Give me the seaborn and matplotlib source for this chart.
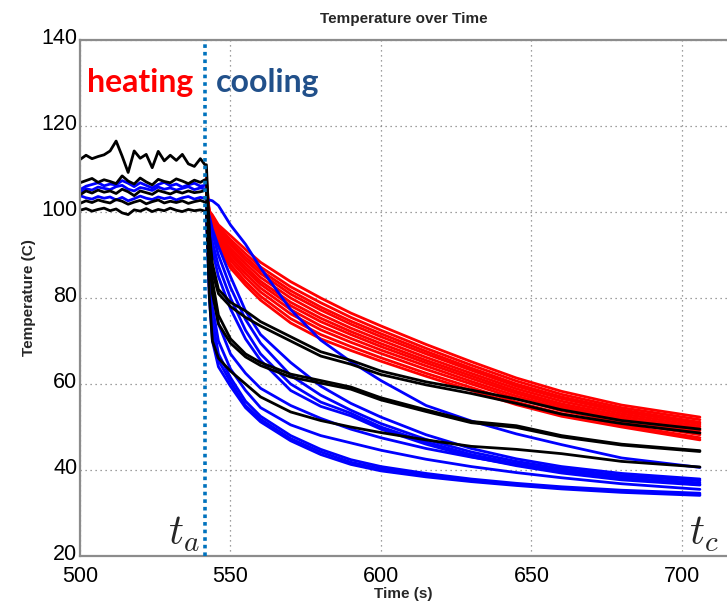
import numpy as np
import pandas as pd
import seaborn as sns
import matplotlib.pyplot as plt
import matplotlib.transforms as mtransforms

# time grids (s)
t_heat = [500, 502, 504, 506, 508, 510, 512, 514, 516, 518, 520,
          522, 524, 526, 528, 530, 532, 534, 536, 538, 540, 541.5]
t_cool = [542, 543, 544, 546, 550, 555, 560, 570, 580, 590, 600,
          615, 630, 645, 660, 680, 706]
t_switch = 541.5

# heating phase, black sensors
heat_black = [
    [112.2, 113.2, 112.4, 112.9, 113.3, 114.2, 116.5, 113.0, 109.2, 114.2, 112.5,
     113.4, 110.3, 114.1, 111.9, 113.2, 112.0, 113.4, 111.2, 110.6, 112.4, 111.0],
    [106.8, 107.3, 107.8, 106.9, 107.5, 107.1, 106.6, 108.4, 107.2, 106.5, 107.9,
     107.0, 106.3, 107.6, 107.1, 106.8, 107.7, 107.2, 106.6, 107.4, 106.9, 107.5],
    [104.0, 104.9, 104.4, 105.1, 104.6, 104.9, 104.3, 105.3, 104.7, 103.8, 104.9,
     104.5, 104.1, 105.0, 104.6, 104.2, 104.8, 104.4, 104.9, 104.5, 104.7, 105.0],
    [102.0, 102.6, 102.2, 102.8, 102.4, 102.1, 102.9, 102.5, 101.8, 102.3, 102.7,
     101.9, 102.4, 102.8, 102.1, 102.5, 102.2, 102.6, 102.0, 102.4, 102.7, 102.3],
    [100.4, 100.8, 100.2, 100.6, 100.9, 100.3, 100.7, 99.8, 99.4, 100.5, 100.2,
     100.8, 100.1, 100.6, 100.3, 100.9, 100.4, 100.1, 100.6, 100.3, 100.5, 100.2],
]

# heating phase, blue sensors
heat_blue = [
    [105.2, 106.0, 106.4, 106.8, 106.1, 106.5, 106.3, 107.3, 106.7, 105.9, 106.8,
     106.2, 105.6, 106.4, 106.9, 106.1, 106.5, 105.8, 106.3, 106.7, 106.0, 106.2],
    [104.6, 105.4, 105.1, 105.8, 105.5, 105.2, 105.9, 106.2, 105.3, 104.9, 105.7,
     105.4, 105.0, 105.8, 105.3, 105.6, 105.1, 105.5, 105.9, 105.2, 105.6, 105.4],
    [103.8, 103.3, 103.0, 103.6, 103.2, 103.5, 102.8, 103.4, 102.6, 103.1, 103.7,
     103.2, 102.9, 103.5, 103.1, 103.4, 102.8, 103.3, 103.6, 103.0, 103.4, 103.2],
]

# cooling phase
red_cool = [
    [104.0, 100.2, 99.3, 97.0, 94.5, 91.3, 88.3, 83.8, 80.0, 76.5, 73.5, 69.2, 65.2, 61.4, 58.3, 55.1, 52.3],
    [106.0, 100.0, 99.0, 96.4, 93.6, 90.3, 87.2, 82.6, 78.9, 75.5, 72.5, 68.3, 64.4, 60.7, 57.6, 54.5, 51.7],
    [103.0, 99.8, 98.6, 95.9, 92.9, 89.5, 86.4, 81.7, 77.9, 74.6, 71.7, 67.6, 63.7, 60.0, 57.0, 54.0, 51.1],
    [108.0, 99.6, 98.2, 95.5, 92.3, 88.8, 85.7, 80.9, 77.2, 73.9, 71.0, 67.0, 63.2, 59.5, 56.6, 53.6, 50.7],
    [102.5, 99.4, 97.8, 95.0, 91.5, 88.0, 84.8, 80.0, 76.2, 73.0, 70.2, 66.2, 62.5, 58.9, 56.0, 53.1, 50.2],
    [105.0, 99.2, 97.4, 94.5, 90.8, 87.2, 83.9, 79.0, 75.3, 72.2, 69.4, 65.5, 61.9, 58.3, 55.4, 52.6, 49.7],
    [101.5, 99.0, 97.0, 94.1, 90.2, 86.5, 83.2, 78.2, 74.5, 71.5, 68.7, 64.9, 61.3, 57.8, 54.9, 52.1, 49.2],
    [107.0, 98.8, 96.6, 93.6, 89.4, 85.7, 82.3, 77.3, 73.5, 70.6, 67.9, 64.2, 60.6, 57.2, 54.4, 51.6, 48.7],
    [102.0, 98.5, 96.2, 93.1, 88.7, 84.8, 81.4, 76.3, 72.6, 69.7, 67.1, 63.4, 60.0, 56.6, 53.8, 51.1, 48.2],
    [104.5, 98.3, 95.8, 92.5, 87.8, 83.8, 80.4, 75.2, 71.5, 68.7, 66.1, 62.5, 59.2, 55.8, 53.1, 50.5, 47.5],
    [101.0, 98.0, 95.5, 92.0, 87.0, 83.0, 79.5, 74.2, 70.5, 67.8, 65.3, 61.8, 58.5, 55.2, 52.5, 50.0, 47.0],
]

blue_cool = [
    [102.5, 102.8, 102.6, 101.5, 97.0, 92.5, 87.0, 77.3, 70.2, 65.2, 60.8, 55.0, 51.4, 48.4, 45.9, 42.8, 40.6],
    [101.0, 99.0, 96.0, 92.0, 85.0, 77.0, 71.5, 65.0, 59.5, 55.5, 52.3, 48.2, 45.0, 42.6, 40.8, 39.2, 37.9],
    [101.0, 98.0, 95.0, 90.0, 82.5, 75.0, 69.5, 62.0, 57.4, 53.9, 50.8, 47.1, 44.2, 42.0, 40.3, 38.7, 37.5],
    [100.0, 97.0, 93.0, 87.5, 80.0, 72.5, 67.0, 60.0, 55.8, 53.2, 50.0, 46.5, 43.6, 41.5, 39.8, 38.2, 37.0],
    [100.0, 96.0, 91.0, 85.0, 77.5, 70.5, 65.5, 58.5, 54.8, 52.6, 49.5, 46.0, 43.1, 41.0, 39.3, 37.7, 36.5],
    [100.0, 90.0, 82.0, 74.0, 67.0, 62.5, 59.0, 55.0, 52.0, 49.5, 47.5, 45.0, 43.0, 41.2, 39.8, 38.2, 36.6],
    [100.0, 86.0, 78.0, 70.0, 63.5, 58.5, 54.5, 50.5, 48.0, 46.3, 44.6, 42.5, 40.8, 39.4, 38.2, 36.8, 35.5],
    [100.0, 84.0, 75.0, 67.0, 61.5, 56.0, 52.5, 48.0, 44.8, 42.4, 40.8, 39.2, 37.9, 36.9, 36.1, 35.3, 34.6],
    [100.0, 82.0, 72.0, 65.5, 60.5, 55.0, 51.8, 47.3, 44.2, 41.8, 40.3, 38.8, 37.6, 36.6, 35.8, 35.0, 34.3],
    [100.0, 80.0, 70.0, 64.0, 59.5, 54.5, 51.2, 46.8, 43.6, 41.3, 39.8, 38.4, 37.3, 36.4, 35.6, 34.8, 34.1],
]

black_cool = [
    [107.5, 95.0, 88.0, 82.0, 79.0, 77.0, 74.5, 71.0, 67.5, 65.5, 63.0, 60.5, 58.6, 56.5, 54.0, 51.5, 49.5],
    [105.0, 93.0, 86.0, 81.0, 78.0, 75.5, 73.5, 70.0, 66.5, 64.6, 62.2, 59.8, 57.8, 55.5, 53.0, 50.8, 48.6],
    [111.0, 95.0, 84.0, 76.0, 70.5, 67.0, 65.0, 62.3, 60.8, 59.3, 56.8, 54.0, 51.3, 50.3, 48.0, 46.0, 44.5],
    [102.3, 90.0, 81.0, 74.0, 69.5, 66.3, 64.3, 61.6, 60.2, 58.8, 56.3, 53.6, 51.0, 49.9, 47.7, 45.8, 44.3],
    [100.2, 80.0, 70.0, 66.0, 63.0, 60.0, 57.0, 53.5, 51.5, 50.0, 48.7, 47.0, 45.5, 44.8, 43.8, 42.0, 40.7],
]

rows = []
groups = [
    ("red", "cool", t_cool, red_cool),
    ("blue", "heat", t_heat, heat_blue),
    ("blue", "cool", t_cool, blue_cool),
    ("black", "heat", t_heat, heat_black),
    ("black", "cool", t_cool, black_cool),
]
for color, phase, t, curves in groups:
    for i, vals in enumerate(curves):
        for tt, v in zip(t, vals):
            rows.append({"time": tt, "temp": v, "group": color,
                         "curve": f"{color}-{phase}-{i}"})
df = pd.DataFrame(rows)

sns.set_theme(style="white")
plt.rcParams["font.family"] = ["Liberation Sans", "DejaVu Sans"]
plt.rcParams["mathtext.fontset"] = "cm"

fig = plt.figure(figsize=(7.27, 6.04), dpi=100)
ax = fig.add_axes([80 / 727, 48 / 604, 647 / 727, 516 / 604])

sns.lineplot(data=df, x="time", y="temp", hue="group", units="curve",
             estimator=None, hue_order=["red", "blue", "black"],
             palette={"red": "#ff0000", "blue": "#0000ff", "black": "#000000"},
             linewidth=2.0, legend=False, ax=ax)

ax.axvline(t_switch, color="#0072bd", linestyle=(0, (1, 1.1)), linewidth=2.6, zorder=5)

ax.set_xlim(500, 715)
ax.set_ylim(20, 140)
ax.set_xticks([500, 550, 600, 650, 700])
ax.set_yticks([20, 40, 60, 80, 100, 120, 140])
ax.grid(True, linestyle=(0, (1, 3)), color="#808080", linewidth=0.9)
ax.tick_params(axis="both", labelsize=15.5, length=0, colors="black")
ax.tick_params(axis="x", pad=7)
ax.tick_params(axis="y", pad=2)
# lift the y labels a little so "20" clears "500", as in the original
lift = mtransforms.ScaledTranslation(0, 3 / 72, fig.dpi_scale_trans)
for lab in ax.get_yticklabels():
    lab.set_transform(lab.get_transform() + lift)
for side in ["left", "bottom", "top"]:
    ax.spines[side].set_color("#8c8c8c")
    ax.spines[side].set_linewidth(1.6)
ax.spines["right"].set_visible(False)

ax.set_title("Temperature over Time", fontsize=11, fontweight="bold", pad=12)
ax.set_xlabel("Time (s)", fontsize=11, fontweight="bold", labelpad=0)
ax.set_ylabel("Temperature (C)", fontsize=11, fontweight="bold", labelpad=4)

ax.text(502.3, 128, "heating", color="#ff0000", fontsize=23, fontweight="bold",
        family=["Lato", "DejaVu Sans"], ha="left", va="baseline")
ax.text(545.0, 128, "cooling", color="#21508a", fontsize=23, fontweight="bold",
        family=["Lato", "DejaVu Sans"], ha="left", va="baseline")
ax.text(539.8, 22.5, r"$t_a$", fontsize=30, ha="right", va="baseline")
ax.text(702.3, 22.5, r"$t_c$", fontsize=30, ha="left", va="baseline", clip_on=False)

fig.savefig("out.png", dpi=100)
